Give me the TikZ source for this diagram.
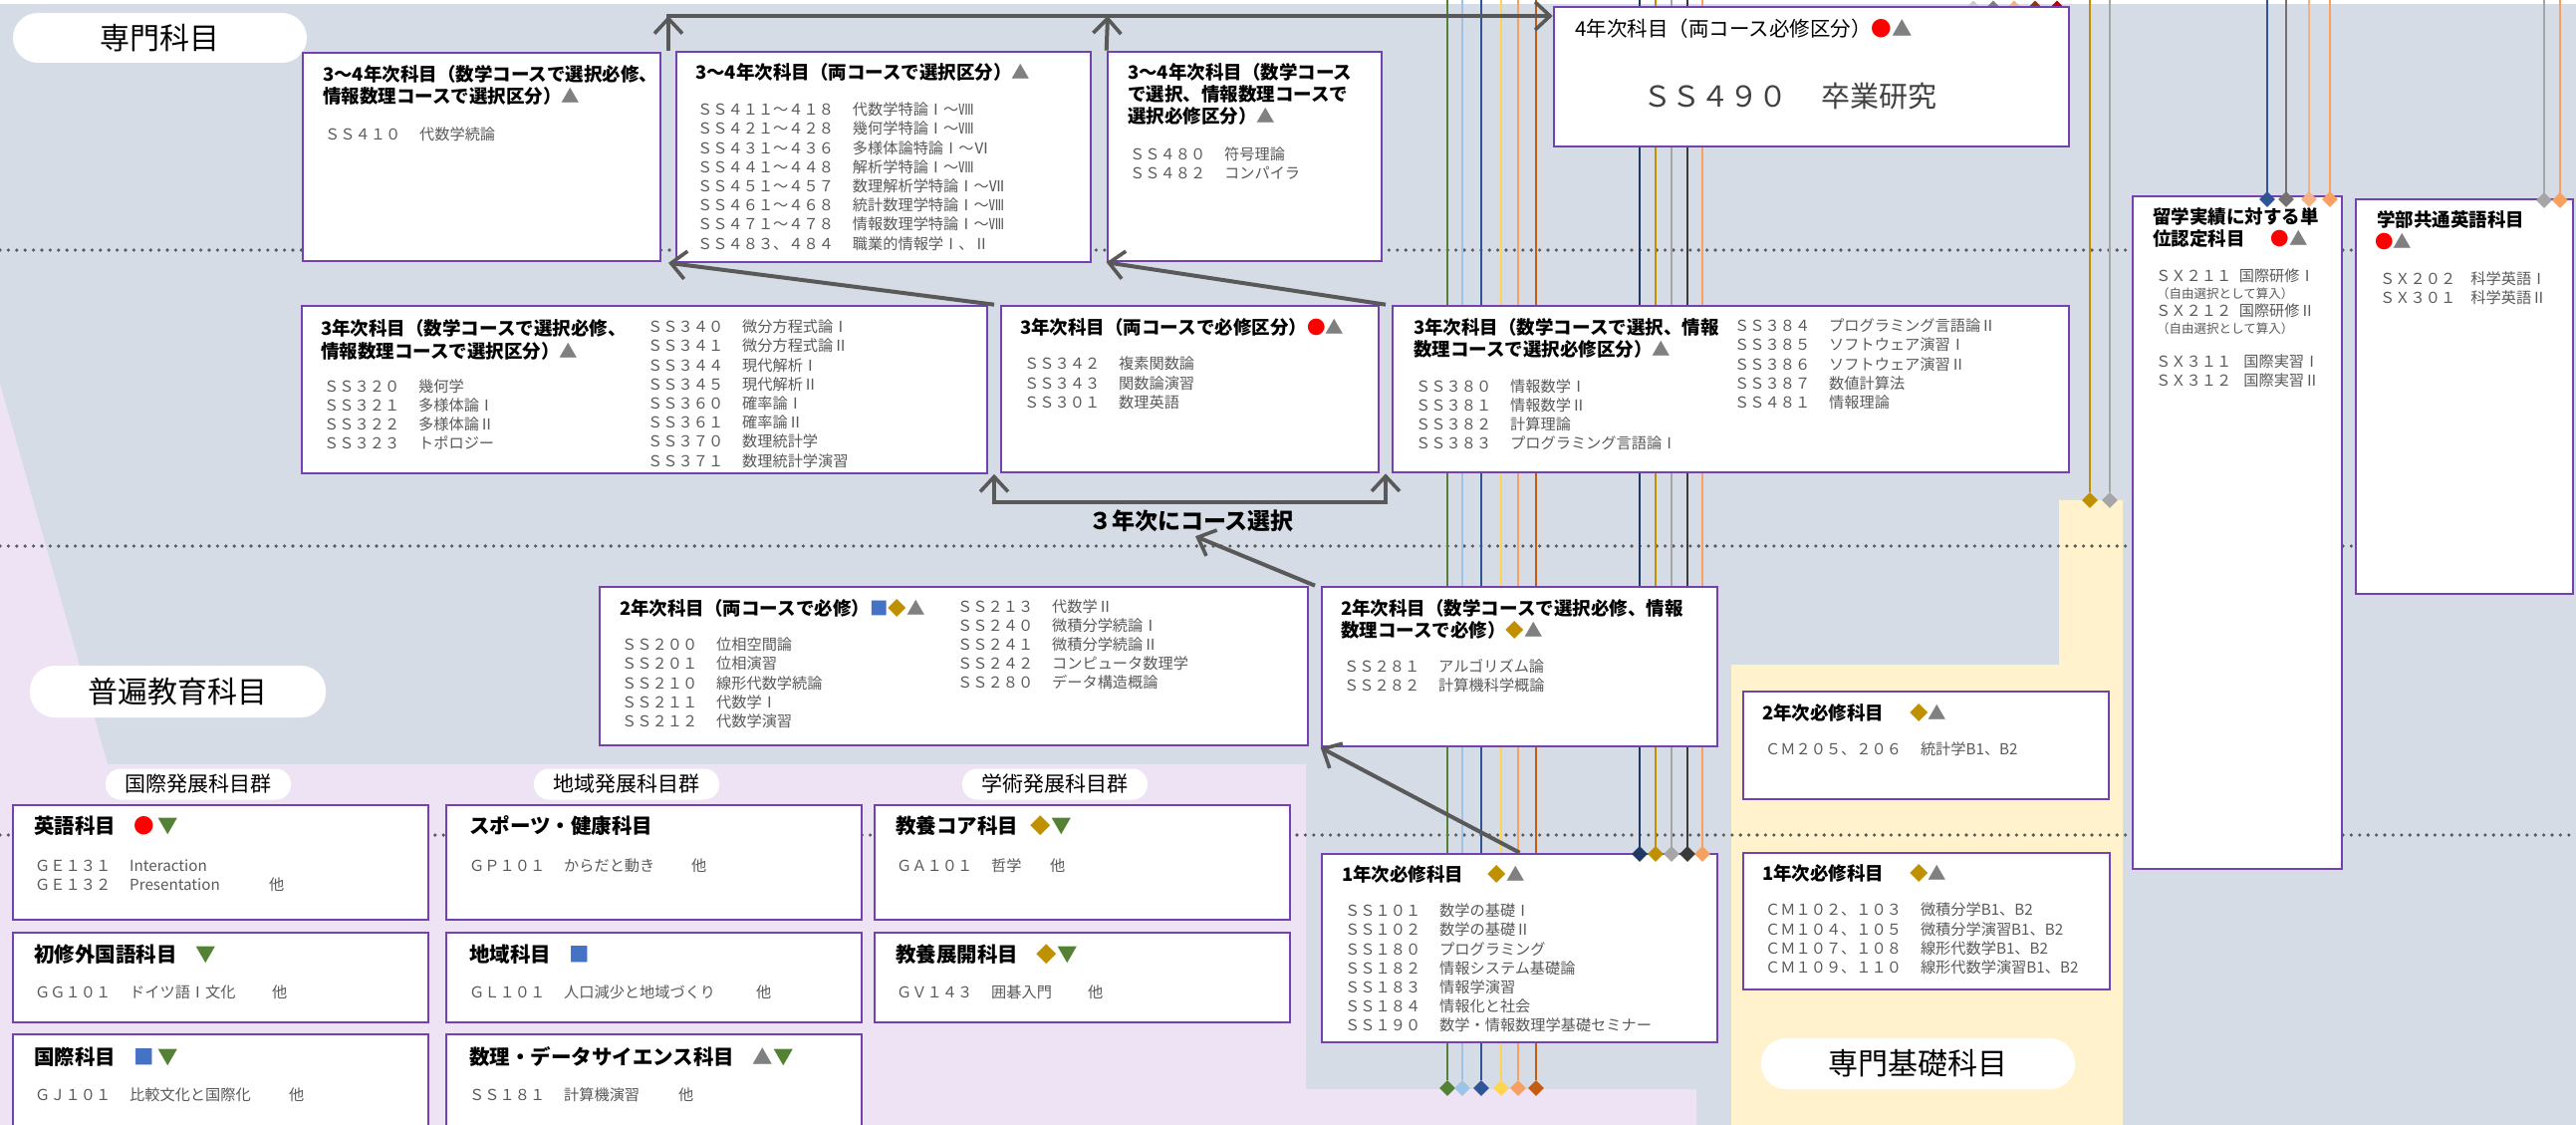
\documentclass[tikz,border=0pt]{standalone}
\usepackage{fontspec}
\setmainfont{Noto Sans CJK JP}
\usetikzlibrary{arrows.meta,shapes.geometric,fit,calc}
\definecolor{bgc}{HTML}{D6DCE5}
\definecolor{lavc}{HTML}{EDE3F5}
\definecolor{crm}{HTML}{FFF2CC}
\definecolor{boxc}{HTML}{7540B0}
\definecolor{arrc}{HTML}{595959}
\definecolor{txtg}{HTML}{595959}
\definecolor{bigc}{HTML}{404040}
\definecolor{cRed}{HTML}{FF0000}
\definecolor{cTri}{HTML}{808080}
\definecolor{cDia}{HTML}{BF9000}
\definecolor{cSq}{HTML}{4472C4}
\definecolor{cDn}{HTML}{548235}
\definecolor{lnA}{HTML}{548235}
\definecolor{lnB}{HTML}{9DC3E6}
\definecolor{lnC}{HTML}{2F5597}
\definecolor{lnD}{HTML}{FFD54F}
\definecolor{lnE}{HTML}{F8A060}
\definecolor{lnF}{HTML}{C55A11}
\definecolor{lnG}{HTML}{1F3864}
\definecolor{lnH}{HTML}{BF9000}
\definecolor{lnI}{HTML}{A6A6A6}
\definecolor{lnJ}{HTML}{3A3A3A}
\definecolor{lnK}{HTML}{767171}
\definecolor{lnL}{HTML}{F4B183}
\definecolor{lnM}{HTML}{C9C9C9}
\definecolor{lnN}{HTML}{7F7F7F}
\definecolor{lnO}{HTML}{843C0C}
\definecolor{lnP}{HTML}{C00000}
\newcommand\Sci{\textcolor{cRed}{●}}
\newcommand\Str{\textcolor{cTri}{▲}}
\newcommand\Sdi{\textcolor{cDia}{◆}}
\newcommand\Ssq{\textcolor{cSq}{■}}
\newcommand\Sdn{\textcolor{cDn}{▼}}
\newcommand\gp{\hspace{1.25em}}
\newcommand\mkstack[5]{\foreach \tx [count=\ii] in {#5} {\node[lst] (#1\ii) at ({#2},{#3+#4*(\ii-1)}) {\tx};}}
\begin{document}
\begin{tikzpicture}[x=1pt,y=-1pt,
 box/.style={draw=boxc,line width=2.6pt,fill=white,inner sep=0pt},
 ttl/.style={anchor=base west,inner sep=0pt,yshift=-7pt,font=\fontsize{18.5}{22}\selectfont\bfseries},
 lt/.style={anchor=base west,inner sep=0pt,yshift=-7.8pt,font=\fontsize{20.5}{24}\selectfont\bfseries},
 lst/.style={anchor=base west,inner sep=0pt,yshift=-5.7pt,text=txtg,font=\fontsize{15.2}{19}\selectfont},
 sml/.style={anchor=base west,inner sep=0pt,yshift=-4.7pt,text=txtg,font=\fontsize{12.5}{15}\selectfont},
 pill/.style={fill=white,rounded corners=25pt,inner sep=0pt,font=\fontsize{30}{36}\selectfont},
 gpill/.style={fill=white,rounded corners=15pt,inner sep=0pt,minimum width=186pt,minimum height=31pt,font=\fontsize{21}{25}\selectfont},
 dotl/.style={draw=arrc,line width=3.6pt,line cap=round,dash pattern=on 0pt off 8.4pt},
 cl/.style={line width=2.6pt},
 dm/.style={diamond,aspect=1,minimum size=16pt,inner sep=0pt},
 conn/.style={draw=arrc,line width=4pt,-{Straight Barb[length=15pt,width=28pt,line width=3.6pt]}},
 conn2/.style={draw=arrc,line width=4pt,{Straight Barb[length=15pt,width=28pt,line width=3.6pt]}-{Straight Barb[length=15pt,width=28pt,line width=3.6pt]}}
]
\useasboundingbox (0,0) rectangle (2586,1129);
\clip (0,0) rectangle (2586,1129);
% backgrounds
\fill[bgc] (0,0) rectangle (2586,1129);
\fill[white] (0,0) rectangle (2586,4);
\fill[lavc] (0,385) -- (108,767) -- (1311,767) -- (1311,1093) -- (1703,1093) -- (1703,1129) -- (0,1129) -- cycle;
\fill[crm] (1738,1129) -- (1738,667) -- (2067,667) -- (2067,502) -- (2131,502) -- (2131,1129) -- cycle;
% dotted grade separators
\foreach \yy [count=\ii] in {251,548,838} {\coordinate (dl\ii) at (0,\yy); \coordinate (dr\ii) at (2586,\yy); \draw[dotl] (dl\ii) -- (dr\ii);}
% coloured lines, group 1
\foreach \xx/\cc [count=\ii] in {1453/lnA,1468/lnB,1487/lnC,1507/lnD,1524/lnE,1542/lnF} {
  \coordinate (ga\ii) at (\xx,0);
  \node[dm,fill=\cc] (gb\ii) at (\xx,1092) {};
  \draw[cl,draw=\cc] (ga\ii) -- (gb\ii);
}
% group 2
\foreach \xx/\cc [count=\ii] in {1646/lnG,1662/lnH,1678/lnI,1694/lnJ,1709/lnE} {
  \coordinate (gc\ii) at (\xx,0); \coordinate (gd\ii) at (\xx,857);
  \draw[cl,draw=\cc] (gc\ii) -- (gd\ii);
}
% to study-abroad box
\foreach \xx/\cc [count=\ii] in {2276/lnC,2295/lnK,2318/lnL,2339/lnE} {
  \coordinate (ge\ii) at (\xx,0); \coordinate (gf\ii) at (\xx,200);
  \draw[cl,draw=\cc] (ge\ii) -- (gf\ii);
}
% to senmon kiso
\foreach \xx/\cc [count=\ii] in {2098/lnH,2118/lnI} {
  \coordinate (gg\ii) at (\xx,0);
  \node[dm,fill=\cc] (gh\ii) at (\xx,502) {};
  \draw[cl,draw=\cc] (gg\ii) -- (gh\ii);
}
% to English box
\foreach \xx/\cc [count=\ii] in {2554/lnI,2570/lnE} {
  \coordinate (gi\ii) at (\xx,0); \coordinate (gj\ii) at (\xx,201);
  \draw[cl,draw=\cc] (gi\ii) -- (gj\ii);
}
% diamonds above 4th-year box
\foreach \xx/\cc [count=\ii] in {1981/lnM,2001/lnN,2022/lnL,2043/lnO,2065/lnP} {
  \node[dm,fill=\cc,minimum size=15pt] (gk\ii) at (\xx,8) {};
}
% pills
\node[pill,minimum width=295pt,minimum height=50pt] (pS) at (160.5,38) {専門科目};
\node[pill,minimum width=297pt,minimum height=52pt] (pF) at (178.5,694) {普遍教育科目};
\node[pill,minimum width=315pt,minimum height=51pt] (pK) at (1925.5,1067.5) {専門基礎科目};
\node[gpill] (q1) at (199,787) {国際発展科目群};
\node[gpill] (q2) at (629,787) {地域発展科目群};
\node[gpill] (q3) at (1059,787) {学術発展科目群};
% boxes
\node[box,fit={(304,53)(663,262)}] (aA) {};
\node[box,fit={(679,52)(1095,263)}] (aB) {};
\node[box,fit={(1112,52)(1387,262)}] (aC) {};
\node[box,fit={(1560,7)(2077,147)}] (aD) {};
\node[box,fit={(303,307)(991,475)}] (bE) {};
\node[box,fit={(1005,307)(1384,474)}] (bF) {};
\node[box,fit={(1398,307)(2077,474)}] (bG) {};
\node[box,fit={(602,589)(1313,748)}] (cH1) {};
\node[box,fit={(1327,589)(1724,749)}] (cH2) {};
\node[box,fit={(1327,857)(1724,1046)}] (dI) {};
\node[box,fit={(2141,197)(2351,872)}] (eJ) {};
\node[box,fit={(2365,200)(2583,596)}] (eK) {};
\node[box,fit={(1750,694)(2117,802)}] (fL) {};
\node[box,fit={(1750,856)(2118,993)}] (fM) {};
\node[box,fit={(13,808)(430,923)}] (g11) {};
\node[box,fit={(448,808)(865,923)}] (g12) {};
\node[box,fit={(878,808)(1295,923)}] (g13) {};
\node[box,fit={(13,936)(430,1026)}] (g21) {};
\node[box,fit={(448,936)(865,1026)}] (g22) {};
\node[box,fit={(878,936)(1295,1026)}] (g23) {};
\node[box,fit={(13,1038)(430,1140)}] (g31) {};
\node[box,fit={(448,1038)(865,1140)}] (g32) {};
% box A
\node[ttl] (aAt1) at (324,75) {3～4年次科目（数学コースで選択必修、};
\node[ttl] (aAt2) at (324,97) {情報数理コースで選択区分）\Str};
\node[lst] (aAl1) at (326,135) {ＳＳ４１０\gp 代数学続論};
% box B
\node[ttl] (aBt1) at (698,73) {3～4年次科目（両コースで選択区分）\Str};
\mkstack{aBl}{700}{110}{19.2}{ＳＳ４１１～４１８\gp 代数学特論Ⅰ～Ⅷ,ＳＳ４２１～４２８\gp 幾何学特論Ⅰ～Ⅷ,ＳＳ４３１～４３６\gp 多様体論特論Ⅰ～Ⅵ,ＳＳ４４１～４４８\gp 解析学特論Ⅰ～Ⅷ,ＳＳ４５１～４５７\gp 数理解析学特論Ⅰ～Ⅶ,ＳＳ４６１～４６８\gp 統計数理学特論Ⅰ～Ⅷ,ＳＳ４７１～４７８\gp 情報数理学特論Ⅰ～Ⅷ,ＳＳ４８３、４８４\gp 職業的情報学Ⅰ、Ⅱ}
% box C
\node[ttl] (aCt1) at (1132,73) {3～4年次科目（数学コース};
\node[ttl] (aCt2) at (1132,95) {で選択、情報数理コースで};
\node[ttl] (aCt3) at (1132,117) {選択必修区分）\Str};
\mkstack{aCl}{1134}{155}{18.5}{ＳＳ４８０\gp 符号理論,ＳＳ４８２\gp コンパイラ}
% box D
\node[anchor=base west,inner sep=0pt,yshift=-7.8pt,font=\fontsize{20.5}{24}\selectfont] (aDt) at (1581,29) {4年次科目（両コース必修区分）\Sci\Str};
\node[anchor=base west,inner sep=0pt,yshift=-11pt,text=bigc,font=\fontsize{29}{34}\selectfont] (aDb) at (1649,97) {ＳＳ４９０\hspace{1.2em}卒業研究};
% box E
\node[ttl] (bEt1) at (322,329) {3年次科目（数学コースで選択必修、};
\node[ttl] (bEt2) at (322,352) {情報数理コースで選択区分）\Str};
\mkstack{bEl}{325}{388}{19}{ＳＳ３２０\gp 幾何学,ＳＳ３２１\gp 多様体論Ⅰ,ＳＳ３２２\gp 多様体論Ⅱ,ＳＳ３２３\gp トポロジー}
\mkstack{bEr}{650}{328}{19.2}{ＳＳ３４０\gp 微分方程式論Ⅰ,ＳＳ３４１\gp 微分方程式論Ⅱ,ＳＳ３４４\gp 現代解析Ⅰ,ＳＳ３４５\gp 現代解析Ⅱ,ＳＳ３６０\gp 確率論Ⅰ,ＳＳ３６１\gp 確率論Ⅱ,ＳＳ３７０\gp 数理統計学,ＳＳ３７１\gp 数理統計学演習}
% box F
\node[ttl] (bFt1) at (1024,328) {3年次科目（両コースで必修区分）\Sci\Str};
\mkstack{bFl}{1028}{365}{19.5}{ＳＳ３４２\gp 複素関数論,ＳＳ３４３\gp 関数論演習,ＳＳ３０１\gp 数理英語}
% box G
\node[ttl] (bGt1) at (1419,328) {3年次科目（数学コースで選択、情報};
\node[ttl] (bGt2) at (1419,350) {数理コースで選択必修区分）\Str};
\mkstack{bGl}{1421}{388}{19}{ＳＳ３８０\gp 情報数学Ⅰ,ＳＳ３８１\gp 情報数学Ⅱ,ＳＳ３８２\gp 計算理論,ＳＳ３８３\gp プログラミング言語論Ⅰ}
\mkstack{bGr}{1741}{327}{19.2}{ＳＳ３８４\gp プログラミング言語論Ⅱ,ＳＳ３８５\gp ソフトウェア演習Ⅰ,ＳＳ３８６\gp ソフトウェア演習Ⅱ,ＳＳ３８７\gp 数値計算法,ＳＳ４８１\gp 情報理論}
% box H1
\node[ttl] (cH1t) at (622,610) {2年次科目（両コースで必修）\Ssq\Sdi\Str};
\mkstack{cH1l}{624}{647}{19.2}{ＳＳ２００\gp 位相空間論,ＳＳ２０１\gp 位相演習,ＳＳ２１０\gp 線形代数学続論,ＳＳ２１１\gp 代数学Ⅰ,ＳＳ２１２\gp 代数学演習}
\mkstack{cH1r}{961}{609}{19}{ＳＳ２１３\gp 代数学Ⅱ,ＳＳ２４０\gp 微積分学続論Ⅰ,ＳＳ２４１\gp 微積分学続論Ⅱ,ＳＳ２４２\gp コンピュータ数理学,ＳＳ２８０\gp データ構造概論}
% box H2
\node[ttl] (cH2t1) at (1346,610) {2年次科目（数学コースで選択必修、情報};
\node[ttl] (cH2t2) at (1346,632) {数理コースで必修）\Sdi\Str};
\mkstack{cH2l}{1349}{669}{19}{ＳＳ２８１\gp アルゴリズム論,ＳＳ２８２\gp 計算機科学概論}
% box I
\node[ttl] (dIt) at (1347,877) {1年次必修科目\hspace{1.3em}\Sdi\Str};
\mkstack{dIl}{1350}{914}{19.2}{ＳＳ１０１\gp 数学の基礎Ⅰ,ＳＳ１０２\gp 数学の基礎Ⅱ,ＳＳ１８０\gp プログラミング,ＳＳ１８２\gp 情報システム基礎論,ＳＳ１８３\gp 情報学演習,ＳＳ１８４\gp 情報化と社会,ＳＳ１９０\gp 数学・情報数理学基礎セミナー}
% box J
\node[ttl] (eJt1) at (2161,217) {留学実績に対する単};
\node[ttl] (eJt2) at (2161,239) {位認定科目\hspace{1.4em}\Sci\Str};
\node[lst] (eJl1) at (2164,277) {ＳＸ２１１\hspace{0.5em}国際研修Ⅰ};
\node[sml] (eJl2) at (2165,295) {（自由選択として算入）};
\node[lst] (eJl3) at (2164,312) {ＳＸ２１２\hspace{0.5em}国際研修Ⅱ};
\node[sml] (eJl4) at (2165,330) {（自由選択として算入）};
\node[lst] (eJl5) at (2164,363) {ＳＸ３１１\hspace{0.8em}国際実習Ⅰ};
\node[lst] (eJl6) at (2164,382) {ＳＸ３１２\hspace{0.8em}国際実習Ⅱ};
% box K
\node[ttl] (eKt1) at (2386,220) {学部共通英語科目};
\node[ttl] (eKt2) at (2384,242) {\Sci\Str};
\mkstack{eKl}{2389}{280}{19}{ＳＸ２０２\hspace{1em}科学英語Ⅰ,ＳＸ３０１\hspace{1em}科学英語Ⅱ}
% box L
\node[ttl] (fLt) at (1769,715) {2年次必修科目\hspace{1.4em}\Sdi\Str};
\node[lst] (fLl1) at (1772,752) {ＣＭ２０５、２０６\gp 統計学B1、B2};
% box M
\node[ttl] (fMt) at (1769,876) {1年次必修科目\hspace{1.4em}\Sdi\Str};
\mkstack{fMl}{1772}{913}{19.3}{ＣＭ１０２、１０３\gp 微積分学B1、B2,ＣＭ１０４、１０５\gp 微積分学演習B1、B2,ＣＭ１０７、１０８\gp 線形代数学B1、B2,ＣＭ１０９、１１０\gp 線形代数学演習B1、B2}
% general education boxes
\node[lt] (g11t) at (34,829) {英語科目\hspace{0.9em}\Sci\hspace{0.15em}\Sdn};
\node[lst] (g11a) at (35,869) {ＧＥ１３１\gp Interaction};
\node[lst] (g11b) at (35,888) {ＧＥ１３２\gp Presentation};
\node[lst] (g11o) at (270,888) {他};
\node[lt] (g21t) at (34,958) {初修外国語科目\hspace{0.9em}\Sdn};
\node[lst] (g21a) at (35,996) {ＧＧ１０１\gp ドイツ語Ⅰ文化};
\node[lst] (g21o) at (273,996) {他};
\node[lt] (g31t) at (34,1061) {国際科目\hspace{0.9em}\Ssq\hspace{0.15em}\Sdn};
\node[lst] (g31a) at (35,1099) {ＧＪ１０１\gp 比較文化と国際化};
\node[lst] (g31o) at (290,1099) {他};
\node[lt] (g12t) at (471,829) {スポーツ・健康科目};
\node[lst] (g12a) at (471,869) {ＧＰ１０１\gp からだと動き};
\node[lst] (g12o) at (694,869) {他};
\node[lt] (g22t) at (471,958) {地域科目\hspace{0.9em}\Ssq};
\node[lst] (g22a) at (471,996) {ＧＬ１０１\gp 人口減少と地域づくり};
\node[lst] (g22o) at (759,996) {他};
\node[lt] (g32t) at (471,1061) {数理・データサイエンス科目\hspace{0.9em}\Str\Sdn};
\node[lst] (g32a) at (471,1099) {ＳＳ１８１\gp 計算機演習};
\node[lst] (g32o) at (681,1099) {他};
\node[lt] (g13t) at (899,829) {教養コア科目\hspace{0.6em}\Sdi\Sdn};
\node[lst] (g13a) at (900,869) {ＧＡ１０１\gp 哲学};
\node[lst] (g13o) at (1054,869) {他};
\node[lt] (g23t) at (899,958) {教養展開科目\hspace{0.9em}\Sdi\Sdn};
\node[lst] (g23a) at (900,996) {ＧＶ１４３\gp 囲碁入門};
\node[lst] (g23o) at (1092,996) {他};
% diamonds on boxes
\foreach \ii/\cc in {1/lnG,2/lnH,3/lnI,4/lnJ,5/lnE} {\node[dm,fill=\cc] (gm\ii) at (gd\ii) {};}
\foreach \ii/\cc in {1/lnC,2/lnK,3/lnL,4/lnE} {\node[dm,fill=\cc] (gn\ii) at (gf\ii) {};}
\foreach \ii/\cc in {1/lnI,2/lnE} {\node[dm,fill=\cc] (go\ii) at (gj\ii) {};}
% arrows
\coordinate (j1) at ($(aA.north east)!0.5!(aB.north west)$);
\coordinate (hl) at (669,16);
\coordinate (hm) at (1112,16);
\draw[conn] (j1) -- (j1 |- hl);
\draw[conn] (aC.north west) -- (hm);
\draw[conn] (hl) -- (hl -| aD.west);
\draw[conn] ($(bE.north east)!0.5!(bF.north west)$) -- ($(aA.south east)!0.5!(aB.south west)$);
\draw[conn] ($(bF.north east)!0.5!(bG.north west)$) -- (aC.south west);
\coordinate (k1) at ($(bE.south east)!0.5!(bF.south west)$);
\coordinate (k2) at ($(bF.south east)!0.5!(bG.south west)$);
\draw[conn2] (k1) -- ++(0,28) -| (k2);
\node[inner sep=0pt,font=\fontsize{23}{28}\selectfont\bfseries] (lbl) at (1196,523) {３年次にコース選択};
\draw[conn] ($(cH1.north east)!0.5!(cH2.north west)$) -- ($(lbl.south)+(4,4)$);
\draw[conn] (dI.north) -- (cH2.south west);
\end{tikzpicture}
\end{document}
